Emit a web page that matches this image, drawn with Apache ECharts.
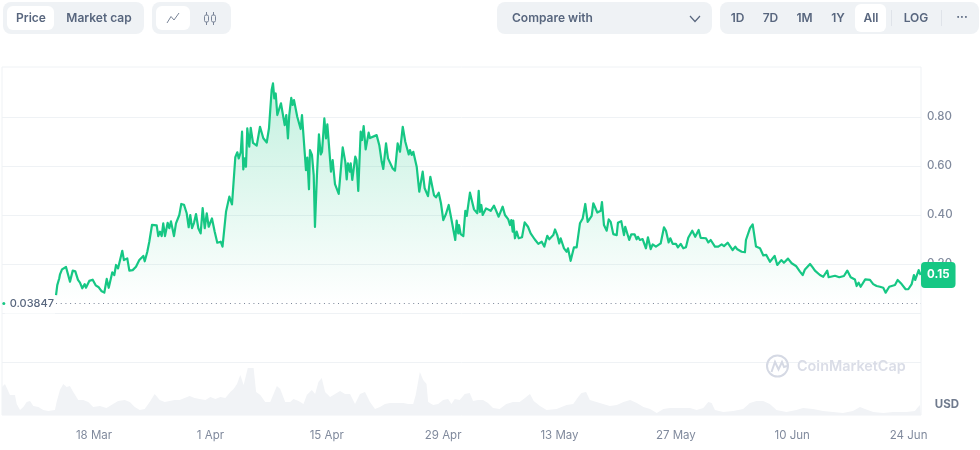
<!DOCTYPE html>
<html>
<head>
<meta charset="utf-8">
<style>html,body{margin:0;padding:0;background:#fff}#c{width:980px;height:450px}</style>
<script src="https://cdn.jsdelivr.net/npm/echarts@6/dist/echarts.min.js"></script>
</head>
<body>
<div id="c"></div>
<script>
// Days counted from 1 Mar 2024
const priceDays = [12.43,12.58,12.82,12.91,13.15,13.39,13.63,13.83,14.11,14.44,14.75,15.07,15.31,15.59,15.88,16.03,16.43,16.84,17.2,17.57,17.88,18.24,18.53,18.77,19.2,19.44,19.65,19.89,20.4,20.6,21.0,21.25,21.65,22.05,22.45,22.69,22.93,23.1,23.41,23.65,23.98,24.54,24.73,24.94,25.14,25.33,25.54,25.86,26.06,26.26,26.62,26.86,27.26,27.5,27.82,28.15,28.39,28.58,28.79,29.03,29.27,29.55,29.83,30.07,30.32,30.56,30.8,31.19,31.52,31.83,32.24,32.46,32.88,33.03,33.28,33.6,34.0,34.24,34.41,34.65,34.81,34.96,35.13,35.28,35.44,35.68,35.85,36.13,36.57,36.81,36.97,37.37,37.78,38.05,38.37,38.53,38.69,38.86,39.05,39.26,39.49,39.94,40.13,40.33,40.49,40.73,40.9,41.06,41.45,41.86,42.02,42.5,42.66,42.86,42.98,43.22,43.43,43.58,43.82,44.06,44.27,44.43,44.71,44.91,45.07,45.51,45.71,45.99,46.44,46.92,47.23,47.4,47.55,47.79,47.88,48.07,48.43,48.58,48.79,49.08,49.24,49.44,49.68,50.04,50.2,51.0,51.32,51.61,51.8,52.13,52.37,52.6,52.93,53.21,53.53,53.81,54.14,54.45,54.62,54.86,55.01,55.22,55.41,55.82,56.13,56.54,56.78,57.02,57.18,57.46,57.9,58.14,58.47,58.74,59.02,59.34,59.67,59.98,60.46,60.63,60.82,60.91,61.11,61.43,61.67,61.84,62.23,62.39,62.71,63.11,63.28,63.43,63.59,63.76,64.16,64.72,65.12,65.36,65.68,66.16,66.44,66.84,67.04,67.2,67.37,67.44,67.64,67.85,68.09,68.49,68.81,69.21,69.53,70.01,70.45,70.86,71.17,71.53,71.77,72.25,72.46,72.73,72.97,73.14,73.54,73.86,74.02,74.34,74.74,75.06,75.46,75.79,76.1,76.25,76.39,76.87,77.07,77.31,77.55,77.96,78.11,78.35,78.68,78.92,79.16,79.47,79.88,80.03,80.43,80.76,80.91,81.15,81.39,81.63,82.04,82.28,82.44,82.68,83.0,83.4,83.64,83.97,84.21,84.6,85.17,85.57,85.81,86.13,86.33,86.62,87.01,87.25,87.58,87.89,88.21,88.49,88.69,88.97,89.33,89.74,89.98,90.62,90.9,91.19,91.7,92.1,92.51,92.79,93.23,93.83,94.15,94.39,94.56,94.92,95.31,95.43,95.64,95.92,96.24,96.64,97.12,97.52,97.88,98.32,98.52,98.88,99.2,99.68,100.0,100.49,100.93,101.45,101.93,102.26,102.53,102.74,103.14,103.46,103.73,104.33,104.73,105.21,105.38,106.14,106.66,107.22,107.62,108.03,108.54,108.75,108.99,109.23,109.78,110.35,110.74,111.15,111.55,111.95,112.24,112.67,113.36,113.68,114.16,114.64,114.96,115.37,115.64,115.8,116.21,116.45];
const priceValues = [.073,.114,.142,.158,.178,.186,.188,.192,.128,.173,.170,.135,.124,.101,.118,.103,.131,.136,.113,.105,.090,.083,.139,.103,.166,.155,.196,.182,.254,.216,.223,.173,.175,.189,.216,.208,.233,.211,.250,.291,.360,.358,.314,.332,.314,.366,.314,.368,.346,.374,.314,.366,.400,.445,.442,.407,.350,.400,.346,.368,.404,.346,.325,.428,.346,.407,.352,.386,.332,.287,.291,.271,.413,.420,.475,.443,.636,.656,.631,.656,.740,.586,.631,.597,.754,.679,.756,.694,.683,.678,.760,.713,.696,.754,.910,.937,.876,.896,.808,.801,.856,.767,.808,.713,.808,.878,.849,.869,.801,.751,.808,.583,.634,.505,.665,.645,.563,.351,.563,.729,.647,.658,.794,.713,.770,.577,.624,.526,.486,.676,.617,.545,.611,.577,.611,.543,.638,.624,.498,.740,.706,.763,.668,.736,.714,.726,.685,.617,.588,.692,.631,.638,.590,.581,.692,.658,.760,.699,.691,.647,.665,.645,.658,.597,.495,.577,.509,.513,.477,.556,.481,.472,.491,.448,.379,.404,.441,.386,.298,.377,.325,.359,.322,.314,.417,.396,.491,.491,.423,.407,.499,.413,.441,.400,.427,.417,.438,.437,.393,.434,.400,.382,.359,.379,.332,.377,.305,.332,.305,.309,.370,.352,.325,.301,.282,.291,.271,.315,.301,.318,.341,.318,.284,.305,.264,.250,.264,.213,.268,.268,.366,.386,.445,.445,.372,.396,.448,.445,.410,.417,.453,.359,.336,.382,.372,.322,.318,.368,.375,.318,.352,.350,.298,.321,.321,.301,.311,.298,.302,.264,.309,.261,.280,.271,.284,.350,.336,.288,.305,.282,.282,.268,.282,.264,.268,.307,.307,.336,.311,.339,.307,.305,.288,.298,.271,.271,.280,.273,.287,.257,.271,.260,.268,.250,.248,.298,.301,.346,.362,.271,.264,.235,.237,.209,.203,.233,.196,.216,.205,.222,.203,.192,.169,.155,.178,.175,.200,.186,.173,.155,.148,.173,.146,.152,.146,.151,.173,.146,.137,.110,.124,.107,.137,.135,.118,.110,.107,.103,.083,.107,.114,.135,.118,.097,.097,.118,.155,.135,.175,.155];
const volumeDays = [5.93,6.29,6.89,7.49,7.7,8.1,8.5,8.9,9.3,9.7,10.3,10.9,11.5,12.3,12.5,12.9,13.3,13.7,14.1,14.5,15.1,15.7,16.3,16.9,17.7,18.5,19.3,19.9,20.7,21.3,21.9,22.5,23.1,23.7,24.3,24.9,25.5,26.1,26.7,27.3,27.9,28.5,29.1,29.7,30.4,31.0,31.6,32.2,32.8,33.4,33.8,34.2,34.6,35.0,35.5,36.2,36.5,37.0,37.6,38.2,38.6,39.0,39.4,40.0,40.6,41.0,41.6,42.2,42.6,43.2,43.6,44.0,44.4,44.8,45.4,46.0,46.6,47.2,47.8,48.4,49.0,49.6,50.2,50.8,51.4,52.0,52.6,53.4,54.2,54.8,55.4,55.7,56.2,56.6,57.0,57.2,57.8,58.4,59.0,59.6,60.0,60.4,61.0,61.6,62.2,62.6,63.2,63.8,64.4,65.0,65.8,66.6,67.4,68.2,68.85,69.45,69.9,70.65,71.45,72.65,73.85,74.65,75.25,75.65,76.2,76.65,77.45,78.25,79.05,79.9,80.7,81.5,82.3,83.1,83.9,84.7,85.5,86.3,87.1,87.9,88.7,89.5,90.3,90.9,91.3,91.7,92.7,93.9,95.1,95.9,96.7,97.5,98.3,99.1,100.3,101.5,102.3,103.5,104.7,105.9,107.1,108.3,109.15,109.75,110.75,111.95,113.15,114.75,115.75,116.35,116.49];
const volumeValues = [28,31,20,20,11,5,8,13,14,9,8,5,4,5,13,25,31,28,29,23,15,15,13,8,9,7,11,14,15,13,8,5,6,13,21,15,13,14,15,15,17,19,17,16,15,18,16,18,17,23,26,31,40,30,47,47,23,20,13,13,21,29,26,13,13,16,14,11,20,25,21,33,37,23,18,21,24,21,21,11,21,23,13,6,8,11,12,12,12,11,11,20,43,35,31,13,10,11,15,16,11,16,15,21,22,14,15,15,12,7,6,11,13,13,17,21,14,9,5,6,10,11,18,22,23,15,13,11,9,10,13,15,12,8,6,2,6,7,7,7,7,5,7,13,12,5,3,4,6,12,14,14,11,5,3,5,7,6,4,3,2,4,8,6,3,2,3,3,4,10,9];
const tickDays = [17,31,45,59,73,87,101,115];
const tickLabels = ['18 Mar','1 Apr','15 Apr','29 Apr','13 May','27 May','10 Jun','24 Jun'];
const priceLabels = ['0.80','0.60','0.40','0.20'];
const baselinePrice = 0.03847;
const lastPrice = 0.155;
const lastLabel = '0.15';

const xMin = 5.93, xMax = 116.49;
const FONT = 'Inter, "Noto Sans", sans-serif';
const GREEN = '#16c784', LINE = '#eff2f5', PILL = '#eff2f5', TXT = '#58667e', AXIS = '#808a9d';

const pill = (x, y, w, h, r, fill) => ({type:'rect', silent:true, z:20, shape:{x,y,width:w,height:h,r}, style:{fill}});
const text = (s, x, y, o) => ({type:'text', silent:true, z:21, x, y, style:Object.assign({text:s, fill:TXT, font:'600 12px '+FONT, align:'center', verticalAlign:'middle'}, o||{})});
const stroke = (type, shape, color, w) => ({type, silent:true, z:21, shape, style:{fill:'none', stroke:color||TXT, lineWidth:w||1}});

const graphics = [
  pill(3,2,141,32,8,PILL), pill(7,6,47,24,6,'#fff'),
  text('Price',31,18), text('Market cap',99,18),
  pill(152,2,79,32,8,PILL), pill(156,6,34,24,6,'#fff'),
  stroke('polyline',{points:[[167,23],[171,16.5],[174,20],[179,13]]},'#7a8598'),
  stroke('rect',{x:204.5,y:15,width:4,height:7,r:1.5},'#7a8598'),
  stroke('line',{x1:206.5,y1:12,x2:206.5,y2:15},'#7a8598'),
  stroke('line',{x1:206.5,y1:22,x2:206.5,y2:25},'#7a8598'),
  stroke('rect',{x:211.5,y:15,width:4,height:7,r:1.5},'#7a8598'),
  stroke('line',{x1:213.5,y1:12,x2:213.5,y2:15},'#7a8598'),
  stroke('line',{x1:213.5,y1:22,x2:213.5,y2:25},'#7a8598'),
  pill(497,2,215,32,8,PILL),
  text('Compare with',512,18,{align:'left'}),
  stroke('polyline',{points:[[690,16],[695,21.5],[700,16]]},TXT,1.2),
  pill(720,2,259,32,8,PILL), pill(855,4,31,28,6,'#fff'),
  text('1D',737.5,18), text('7D',770.5,18), text('1M',804.5,18), text('1Y',838,18), text('All',871,18),
  stroke('line',{x1:891.5,y1:10,x2:891.5,y2:26},'#dfe3e9'),
  text('LOG',916,18),
  stroke('line',{x1:941.5,y1:10,x2:941.5,y2:26},'#dfe3e9'),
  text('···',962,17),
  {type:'circle', silent:true, z:3, shape:{cx:777.5,cy:366,r:10.5}, style:{fill:'none',stroke:'#d5d9e4',lineWidth:2}},
  stroke('polyline',{points:[[771.5,372],[775,362],[778.5,369.5],[782,362],[784,367],[787,366]]},'#d5d9e4',2),
  text('CoinMarketCap',797,367,{align:'left',fill:'#dadde7',font:'600 14.4px '+FONT}),
  text('USD',947,405,{fill:'#6f7a8d',font:'700 11.5px '+FONT})
];

const chart = echarts.init(document.getElementById('c'), null, {renderer:'canvas'});
chart.setOption({
  animation:false,
  backgroundColor:'#fff',
  textStyle:{fontFamily:FONT},
  graphic:graphics,
  grid:[
    {left:2,right:59,top:68,height:343},
    {left:2,right:59,top:67,height:348,show:true,borderColor:LINE,borderWidth:1,backgroundColor:'transparent'}
  ],
  xAxis:[
    {gridIndex:0,type:'value',min:xMin,max:xMax,show:false},
    {gridIndex:1,type:'value',min:xMin,max:xMax,
     axisLine:{show:false},axisTick:{show:false},splitLine:{show:false},
     axisLabel:{customValues:tickDays,margin:15,color:AXIS,fontSize:11.5,fontFamily:FONT,hideOverlap:false,
       formatter:v=>tickLabels[tickDays.indexOf(+v)]||''}}
  ],
  yAxis:[
    {gridIndex:0,type:'value',position:'right',min:-0.4,max:1,interval:0.2,
     axisLine:{show:false},axisTick:{show:false},
     splitLine:{show:true,showMinLine:false,showMaxLine:false,lineStyle:{color:LINE,width:1}},
     axisLabel:{margin:6,color:AXIS,fontSize:11.5,fontWeight:500,fontFamily:FONT,
       formatter:v=>{const s=v.toFixed(2);return priceLabels.includes(s)?s:'';}}},
    {gridIndex:1,type:'value',min:0,max:348,show:false}
  ],
  series:[
    {name:'Volume',type:'line',xAxisIndex:1,yAxisIndex:1,z:1,showSymbol:false,silent:true,
     data:volumeDays.map((d,i)=>[d,volumeValues[i]]),
     lineStyle:{width:0},areaStyle:{color:'#f1f3f6',opacity:1}},
    {name:'Price',type:'line',xAxisIndex:0,yAxisIndex:0,z:4,showSymbol:false,silent:true,
     data:priceDays.map((d,i)=>[d,priceValues[i]]),
     lineStyle:{color:GREEN,width:2.2,join:'round'},
     areaStyle:{origin:baselinePrice,opacity:1,color:{type:'linear',x:0,y:0,x2:0,y2:1,colorStops:[
       {offset:0,color:'rgba(22,199,132,0.26)'},{offset:1,color:'rgba(22,199,132,0)'}]}},
     markLine:{silent:true,symbol:'none',z:3,animation:false,
       lineStyle:{type:[1,3.7],color:'#7a8598',width:1},
       label:{show:true,position:'start',distance:1,formatter:()=>String(baselinePrice),color:TXT,fontSize:11,fontWeight:500,fontFamily:FONT,
         backgroundColor:'#fff',padding:[6,1,3,5]},
       data:[[{coord:[priceDays[0],baselinePrice]},{coord:[xMax,baselinePrice]}]]},
     markPoint:{silent:true,animation:false,z:12,data:[
       {coord:[xMax,lastPrice],symbol:'circle',symbolSize:0,
        label:{show:true,position:'right',distance:0,formatter:lastLabel,color:'#fff',fontSize:11.5,fontWeight:700,fontFamily:FONT,
          backgroundColor:GREEN,borderRadius:4,padding:[7,6,7,6]}},
       {coord:[6.15,baselinePrice],symbol:'circle',symbolSize:3,itemStyle:{color:GREEN},label:{show:false}}
     ]}}
  ]
});
</script>
</body>
</html>
